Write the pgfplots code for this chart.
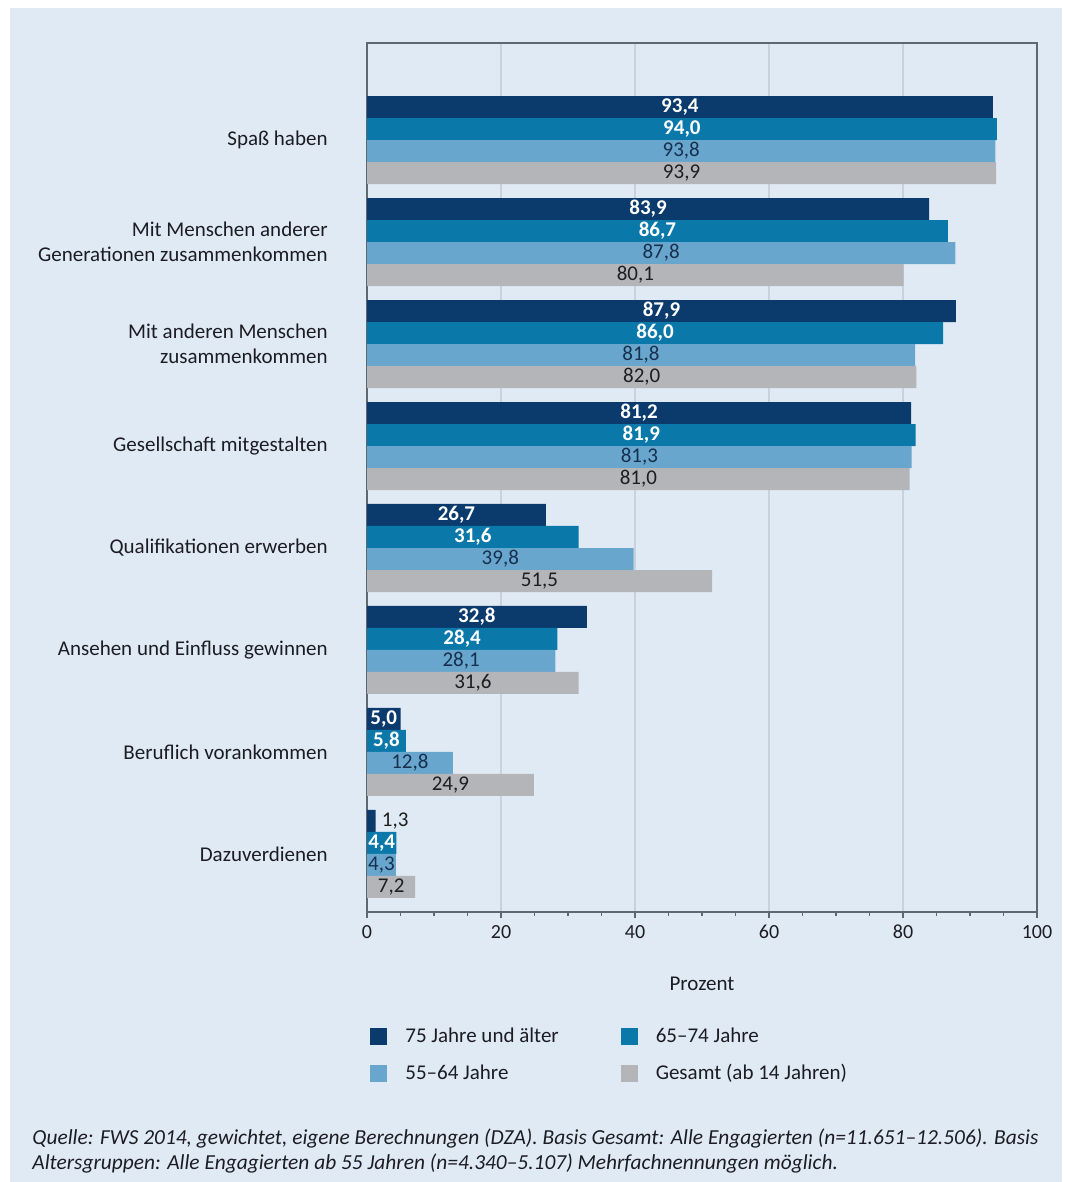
\documentclass[border=0pt]{standalone}
\usepackage{pgfplots}
\pgfplotsset{compat=1.18}
\usepackage{pgfplotstable}
\usepackage{fontspec}
\setmainfont{Carlito}
\definecolor{panel}{HTML}{E0EAF4}
\definecolor{colA}{HTML}{0B3A6C}
\definecolor{colB}{HTML}{0A79AA}
\definecolor{colC}{HTML}{68A6CD}
\definecolor{colD}{HTML}{B4B5B9}
\definecolor{txtC}{HTML}{16304E}
\definecolor{txtD}{HTML}{1E1E1E}
\definecolor{gridc}{HTML}{C9D2DC}
\definecolor{axc}{HTML}{5E6870}
\definecolor{txt}{HTML}{1C1C24}

% y = category index (0 = top), v = percent
\pgfplotstableread{
y v
0 93.4
1 83.9
2 87.9
3 81.2
4 26.7
5 32.8
6 5.0
7 1.3
}\tabA
\pgfplotstableread{
y v
0 94.0
1 86.7
2 86.0
3 81.9
4 31.6
5 28.4
6 5.8
7 4.4
}\tabB
\pgfplotstableread{
y v
0 93.8
1 87.8
2 81.8
3 81.3
4 39.8
5 28.1
6 12.8
7 4.3
}\tabC
\pgfplotstableread{
y v
0 93.9
1 80.1
2 82.0
3 81.0
4 51.5
5 31.6
6 24.9
7 7.2
}\tabD

\begin{document}
\begin{tikzpicture}
\useasboundingbox (0,0) rectangle (533.5pt,-591pt);
\fill[white] (0,0) rectangle (533.5pt,-591pt);
\fill[panel] (5pt,-4pt) rectangle (531pt,-591pt);
\begin{axis}[
  at={(183.5pt,-21.5pt)}, anchor=north west,
  scale only axis, width=335pt, height=434.5pt,
  y dir=reverse,
  xmin=0, xmax=100, ymin=-0.951, ymax=7.569,
  axis line style={draw=axc, line width=0.7pt},
  xtick={0,20,...,100}, minor x tick num=3,
  xtick pos=bottom, tick align=outside,
  major tick length=3pt, minor tick length=2pt,
  every tick/.style={draw=axc, line width=0.6pt},
  xmajorgrids, major x grid style={draw=gridc, line width=0.6pt},
  ytick={0,...,7}, ytick style={draw=none},
  yticklabels={{Spaß haben},{Mit Menschen anderer\\Generationen zusammenkommen},{Mit anderen Menschen\\zusammenkommen},{Gesellschaft mitgestalten},{Qualifikationen erwerben},{Ansehen und Einfluss gewinnen},{Beruflich vorankommen},{Dazuverdienen}},
  yticklabel style={align=right, anchor=east, inner sep=0pt, font=\fontsize{10.5}{12.5}\selectfont, text=txt},
  yticklabel shift=16.5pt,
  xticklabel style={font=\fontsize{10}{12}\selectfont, text=txt},
  /pgf/number format/assume math mode=true,
  xlabel={Prozent},
  xlabel style={at={(axis description cs:0.5,-0.0829)}, anchor=center, font=\fontsize{10.5}{12}\selectfont, text=txt},
  legend columns=2,
  legend cell align=left,
  legend style={at={(axis description cs:0.0045,-0.128)}, anchor=north west, draw=none, fill=none, inner sep=0pt, row sep=5.5pt, font=\fontsize{10.5}{12}\selectfont, text=txt},
  /tikz/every odd column/.append style={column sep=7pt},
  /tikz/every even column/.append style={column sep=29pt},
  nodes near coords style={font=\fontsize{10.5}{12}\selectfont\bfseries, anchor=center, inner sep=0pt},
  clip=false,
]
\addplot[xbar, bar width=0.2157, fill=colA, draw=none, bar shift=-0.32355,
  legend image code/.code={\fill[colA] (0pt,-4.25pt) rectangle (8.5pt,4.25pt);}]
  table[x=v, y=y]{\tabA};
\addlegendentry{75 Jahre und älter}
\addplot[xbar, bar width=0.2157, fill=colB, draw=none, bar shift=-0.10785,
  legend image code/.code={\fill[colB] (0pt,-4.25pt) rectangle (8.5pt,4.25pt);}]
  table[x=v, y=y]{\tabB};
\addlegendentry{65--74 Jahre}
\addplot[xbar, bar width=0.2157, fill=colC, draw=none, bar shift=0.10785,
  legend image code/.code={\fill[colC] (0pt,-4.25pt) rectangle (8.5pt,4.25pt);}]
  table[x=v, y=y]{\tabC};
\addlegendentry{55--64 Jahre}
\addplot[xbar, bar width=0.2157, fill=colD, draw=none, bar shift=0.32355,
  legend image code/.code={\fill[colD] (0pt,-4.25pt) rectangle (8.5pt,4.25pt);}]
  table[x=v, y=y]{\tabD};
\addlegendentry{Gesamt (ab 14 Jahren)}

% value labels (centred in bars)
\pgfplotsset{every axis plot/.append style={forget plot}}
\addplot[draw=none, mark=none, restrict x to domain=1:100,
  nodes near coords={\pgfmathprintnumber[fixed,fixed zerofill,precision=1,use comma]{\pgfplotspointmeta}},
  point meta=explicit, nodes near coords style={text=white}]
  table[x expr=\thisrow{v}/2, y expr=\thisrow{y}-0.32355, meta=v]{\tabA};
\addplot[draw=none, mark=none, restrict x to domain=0:6,
  nodes near coords={\pgfmathprintnumber[fixed,fixed zerofill,precision=1,use comma]{\pgfplotspointmeta}},
  point meta=explicit, nodes near coords style={text=txtD, font=\fontsize{10.5}{12}\selectfont}]
  table[x expr=\thisrow{v}+2.9, y expr=\thisrow{y}-0.32355, meta=v]{\tabA};
\addplot[draw=none, mark=none,
  nodes near coords={\pgfmathprintnumber[fixed,fixed zerofill,precision=1,use comma]{\pgfplotspointmeta}},
  point meta=explicit, nodes near coords style={text=white}]
  table[x expr=\thisrow{v}/2, y expr=\thisrow{y}-0.10785, meta=v]{\tabB};
\addplot[draw=none, mark=none,
  nodes near coords={\pgfmathprintnumber[fixed,fixed zerofill,precision=1,use comma]{\pgfplotspointmeta}},
  point meta=explicit, nodes near coords style={text=txtC, font=\fontsize{10.5}{12}\selectfont}]
  table[x expr=\thisrow{v}/2, y expr=\thisrow{y}+0.10785, meta=v]{\tabC};
\addplot[draw=none, mark=none,
  nodes near coords={\pgfmathprintnumber[fixed,fixed zerofill,precision=1,use comma]{\pgfplotspointmeta}},
  point meta=explicit, nodes near coords style={text=txtD, font=\fontsize{10.5}{12}\selectfont}]
  table[x expr=\thisrow{v}/2, y expr=\thisrow{y}+0.32355, meta=v]{\tabD};
\end{axis}
\node[anchor=base west, inner sep=0pt, text=txt, font=\fontsize{10.7}{12}\selectfont\itshape] at (16pt,-572pt)
  {Quelle: FWS 2014, gewichtet, eigene Berechnungen (DZA). Basis Gesamt: Alle Engagierten (n=11.651--12.506). Basis};
\node[anchor=base west, inner sep=0pt, text=txt, font=\fontsize{10.7}{12}\selectfont\itshape] at (16pt,-584.5pt)
  {Altersgruppen: Alle Engagierten ab 55 Jahren (n=4.340--5.107) Mehrfachnennungen möglich.};
\end{tikzpicture}
\end{document}
